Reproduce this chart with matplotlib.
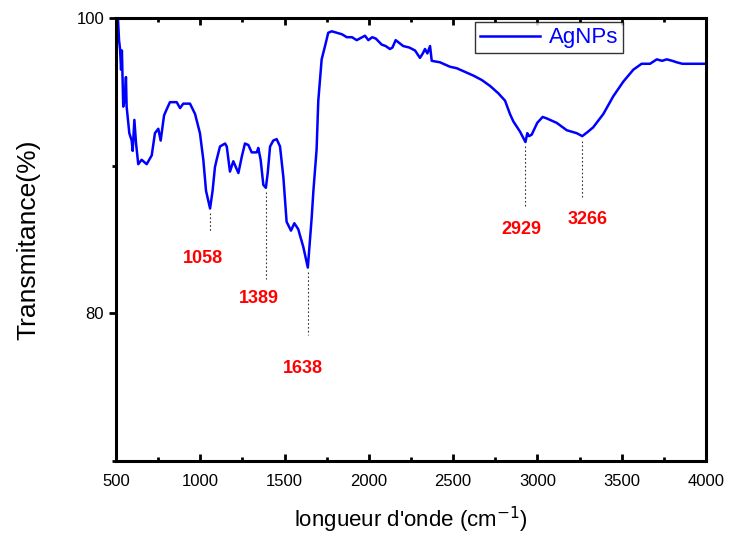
import numpy as np
import matplotlib
matplotlib.use("Agg")
import matplotlib.pyplot as plt
from matplotlib.ticker import MultipleLocator

# FTIR spectrum of AgNPs
wavenumber = [
    505, 512, 518, 524, 530, 535, 543, 552, 559, 563, 572, 579, 593, 599, 609,
    619, 632, 652, 682, 712, 731, 751, 765, 785, 800, 820, 860, 880, 899, 939,
    969, 998, 1018, 1034, 1058, 1073, 1087, 1097, 1117, 1147, 1157, 1176, 1196,
    1226, 1246, 1265, 1285, 1305, 1335, 1344, 1358, 1374, 1389, 1400, 1414,
    1433, 1453, 1473, 1493, 1512, 1538, 1558, 1581, 1611, 1638, 1661, 1671,
    1690, 1700, 1720, 1740, 1759, 1780, 1809, 1840, 1869, 1900, 1928, 1960,
    1977, 1997, 2020, 2042, 2076, 2100, 2125, 2140, 2159, 2204, 2240, 2274,
    2303, 2320, 2333, 2347, 2363, 2373, 2422, 2481, 2521, 2560, 2620, 2670,
    2719, 2768, 2808, 2837, 2857, 2897, 2929, 2940, 2950, 2966, 2999, 3031,
    3055, 3114, 3174, 3233, 3266, 3300, 3331, 3391, 3450, 3510, 3569, 3618,
    3668, 3708, 3740, 3767, 3800, 3826, 3860, 3886, 3940, 4000,
]
transmittance = [
    100.8, 99.9, 98.5, 97.9, 96.5, 97.8, 94.0, 94.5, 96.0, 94.0, 93.0, 92.2,
    91.7, 91.0, 93.1, 91.5, 90.1, 90.4, 90.1, 90.7, 92.2, 92.5, 91.7, 93.4,
    93.8, 94.3, 94.3, 93.9, 94.2, 94.2, 93.5, 92.2, 90.4, 88.3, 87.1, 88.3,
    89.9, 90.4, 91.3, 91.5, 91.3, 89.6, 90.3, 89.5, 90.6, 91.5, 91.4, 90.9,
    90.9, 91.2, 90.4, 88.7, 88.5, 89.5, 91.3, 91.7, 91.8, 91.3, 89.2, 86.2,
    85.6, 86.1, 85.7, 84.5, 83.1, 86.5, 88.3, 91.1, 94.4, 97.2, 98.1, 99.0,
    99.1, 99.0, 98.9, 98.7, 98.7, 98.5, 98.7, 98.8, 98.5, 98.7, 98.6, 98.2,
    98.1, 97.9, 98.0, 98.5, 98.1, 98.0, 97.8, 97.3, 97.6, 97.9, 97.6, 98.1,
    97.1, 97.0, 96.7, 96.6, 96.4, 96.1, 95.8, 95.4, 94.9, 94.4, 93.5, 93.0,
    92.3, 91.6, 92.2, 92.0, 92.1, 92.9, 93.3, 93.2, 92.9, 92.4, 92.2, 92.0,
    92.3, 92.6, 93.5, 94.7, 95.7, 96.5, 96.9, 96.9, 97.2, 97.1, 97.2, 97.1,
    97.0, 96.9, 96.9, 96.9, 96.9,
]

# labelled peaks: position, top of marker line, bottom of marker line, label position
peak_pos = [1058, 1389, 1638, 2929, 3266]
peak_top = [87.1, 88.5, 83.1, 91.6, 92.0]
peak_line_end = [85.5, 82.35, 78.5, 87.25, 87.9]
peak_label_x = [1016, 1350, 1611, 2903, 3298]
peak_label_y = [83.7, 81.0, 76.25, 85.7, 86.35]

plt.rcParams["font.family"] = ["Liberation Sans", "DejaVu Sans"]

fig = plt.figure(figsize=(7.29, 5.41), dpi=100)
ax = fig.add_axes([116 / 729, 80 / 541, 590 / 729, 443 / 541])

ax.plot(wavenumber, transmittance, color="#0000ff", lw=1.8, label="AgNPs")

for pos, top, end, lx, ly in zip(peak_pos, peak_top, peak_line_end,
                                 peak_label_x, peak_label_y):
    ax.plot([pos, pos], [top - 0.3, end], color="black", lw=0.8,
            linestyle=(0, (1.5, 2)), alpha=0.8)
    ax.text(lx, ly, str(pos), color="#ff0000", fontsize=13,
            fontweight="bold", ha="center", va="center")

ax.set_xlim(500, 4000)
ax.set_ylim(70, 100)
ax.xaxis.set_major_locator(MultipleLocator(500))
ax.xaxis.set_minor_locator(MultipleLocator(250))
ax.yaxis.set_major_locator(MultipleLocator(20))
ax.yaxis.set_minor_locator(MultipleLocator(10))

for side in ["top", "bottom", "left", "right"]:
    ax.spines[side].set_linewidth(2.2)

ax.tick_params(which="major", direction="out", length=5, width=2,
               labelsize=12)
ax.tick_params(which="minor", direction="out", length=3, width=2)
ax.tick_params(axis="x", which="both", top=True, direction="in")
ax.tick_params(axis="x", which="major", pad=9)

ax.set_xlabel("longueur d'onde (cm$^{-1}$)", fontsize=16, labelpad=12)
ax.set_ylabel("Transmitance(%)", fontsize=19, labelpad=26)

leg = ax.legend(loc="upper left", bbox_to_anchor=(0.608, 0.99),
                fontsize=16, frameon=True, fancybox=False,
                handlelength=2.7, handletextpad=0.4, borderpad=0.22,
                borderaxespad=0.0)
leg.get_frame().set_edgecolor("black")
leg.get_frame().set_linewidth(1.0)
for t in leg.get_texts():
    t.set_color("#0000ff")

fig.savefig("out.png", dpi=100)
